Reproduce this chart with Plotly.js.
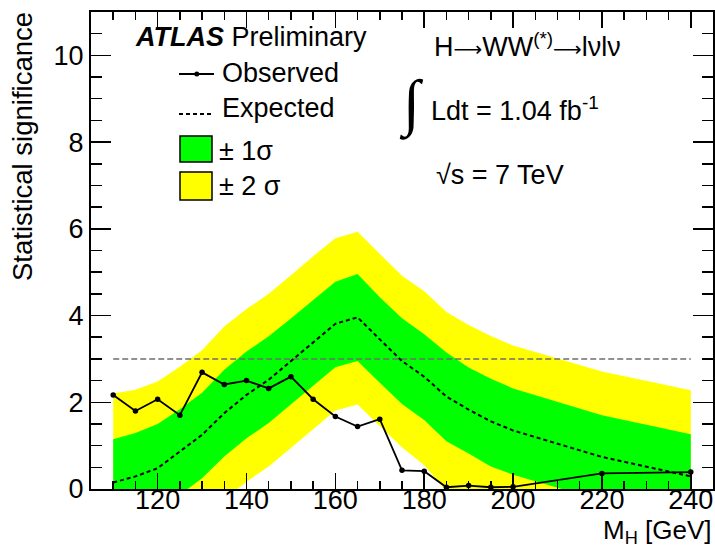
<!DOCTYPE html>
<html>
<head>
<meta charset="utf-8">
<script src="https://cdn.plot.ly/plotly-3.0.1.min.js"></script>
<style>html,body{margin:0;padding:0;background:#fff;}#chart{width:715px;height:547px;}</style>
</head>
<body>
<div id="chart"></div>
<script>
// ---- data ----
const mass      = [110, 115, 120, 125, 130, 135, 140, 145, 150, 155, 160, 165, 170, 175, 180, 185, 190, 195, 200, 220, 240];
const observed  = [2.17, 1.80, 2.07, 1.70, 2.69, 2.41, 2.50, 2.32, 2.59, 2.07, 1.67, 1.44, 1.61, 0.43, 0.41, 0.04, 0.08, 0.04, 0.05, 0.36, 0.39];
const expected  = [0.15, 0.29, 0.48, 0.86, 1.25, 1.75, 2.17, 2.52, 2.94, 3.38, 3.81, 3.96, 3.45, 2.95, 2.59, 2.13, 1.83, 1.56, 1.35, 0.74, 0.29];
const green_hi  = [1.15, 1.29, 1.50, 1.84, 2.22, 2.75, 3.17, 3.52, 3.93, 4.36, 4.78, 4.96, 4.42, 3.94, 3.57, 3.15, 2.80, 2.54, 2.32, 1.70, 1.26];
const green_lo  = [-0.85, -0.71, -0.52, -0.14, 0.25, 0.75, 1.17, 1.52, 1.94, 2.38, 2.81, 2.95, 2.45, 1.96, 1.59, 1.10, 0.82, 0.52, 0.33, -0.27, -0.72];
const yellow_hi = [2.20, 2.29, 2.48, 2.82, 3.20, 3.75, 4.15, 4.50, 4.93, 5.37, 5.78, 5.93, 5.42, 4.92, 4.56, 4.08, 3.78, 3.53, 3.31, 2.71, 2.28];
const yellow_lo = [-1.85, -1.71, -1.52, -1.14, -0.75, -0.25, 0.17, 0.52, 0.94, 1.38, 1.81, 1.95, 1.45, 0.96, 0.55, -0.05, -0.17, -0.45, -0.67, -1.26, -1.72];
const threshold = 3;
const xTickVals = [120, 140, 160, 180, 200, 220, 240];
const yTickVals = [0, 2, 4, 6, 8, 10];

// ---- layout helpers (pixel -> paper) ----
const L = 91, R = 713, T = 12, B = 489;
const px = x => (x - L) / (R - L);
const py = y => (B - y) / (B - T);
const FONT = 'Liberation Sans, Arial, Helvetica, sans-serif';

const traces = [
  {x: mass, y: yellow_lo, mode: 'lines', line: {width: 0, color: '#ffff00'}, hoverinfo: 'skip', showlegend: false},
  {x: mass, y: yellow_hi, mode: 'lines', line: {width: 0, color: '#ffff00'}, fill: 'tonexty', fillcolor: '#ffff00', hoverinfo: 'skip', showlegend: false},
  {x: mass, y: green_lo, mode: 'lines', line: {width: 0, color: '#00ff00'}, hoverinfo: 'skip', showlegend: false},
  {x: mass, y: green_hi, mode: 'lines', line: {width: 0, color: '#00ff00'}, fill: 'tonexty', fillcolor: '#00ff00', hoverinfo: 'skip', showlegend: false},
  {x: [mass[0], mass[mass.length - 1]], y: [threshold, threshold], mode: 'lines', line: {color: '#6e6e6e', width: 1.5, dash: '6px,3px'}, showlegend: false},
  {x: mass, y: expected, mode: 'lines', line: {color: '#000', width: 2, dash: '4px,3px'}, showlegend: false},
  {x: mass, y: observed, mode: 'lines+markers', line: {color: '#000', width: 1.8}, marker: {color: '#000', size: 5.5}, showlegend: false}
];

function ann(text, x, y, size, opts) {
  return Object.assign({text: text, xref: 'paper', yref: 'paper', x: px(x), y: py(y), xanchor: 'left', yanchor: 'middle',
    showarrow: false, font: {family: FONT, size: size, color: '#000'}}, opts || {});
}

const ARROW = '<span style="font-family:DejaVu Sans;font-size:20px">⟶</span>';

const annotations = [
  ann('<b><i>ATLAS</i></b> Preliminary', 133, 37, 27),
  ann('Observed', 220, 73, 27),
  ann('Expected', 220, 108, 27),
  ann('± 1σ', 217, 151, 27),
  ann('± 2 σ', 217, 186, 27),
  ann('H' + ARROW + 'WW<sup>(*)</sup>' + ARROW + 'lνlν', 432, 45, 27),
  ann('∫', 412, 104, 62, {xanchor: 'center', font: {family: 'Liberation Serif, serif', size: 62, color: '#000'}}),
  ann('Ldt = 1.04 fb<sup>-1</sup>', 429, 109, 27),
  ann('√s = 7 TeV', 434, 175, 27),
  ann('Statistical significance', 22, 147, 27.5, {xanchor: 'center', textangle: -90}),
  ann('M<sub>H</sub> [GeV]', 713, 531, 26, {xanchor: 'right', borderpad: 0})
];

const shapes = [
  {type: 'line', xref: 'paper', yref: 'paper', x0: px(179), x1: px(214), y0: py(74), y1: py(74), line: {color: '#000', width: 1.8}},
  {type: 'circle', xref: 'paper', yref: 'paper', x0: px(194.3), x1: px(199.3), y0: py(71.5), y1: py(76.5), fillcolor: '#000', line: {color: '#000', width: 0}},
  {type: 'line', xref: 'paper', yref: 'paper', x0: px(179), x1: px(214), y0: py(114), y1: py(114), line: {color: '#000', width: 1.8, dash: '4px,3px'}},
  {type: 'rect', xref: 'paper', yref: 'paper', x0: px(180), x1: px(212), y0: py(136), y1: py(162), fillcolor: '#00ff00', line: {color: '#000', width: 1.5}},
  {type: 'rect', xref: 'paper', yref: 'paper', x0: px(180), x1: px(212), y0: py(172), y1: py(200), fillcolor: '#ffff00', line: {color: '#000', width: 1.5}}
];

const axisCommon = {
  showline: true, linecolor: '#000', linewidth: 2, mirror: 'ticks', showgrid: false, zeroline: false,
  ticks: 'inside', tickcolor: '#000', tickwidth: 1.5, tickfont: {family: FONT, size: 27, color: '#000'}
};

const layout = {
  width: 715, height: 547,
  margin: {l: L, r: 715 - R, t: T, b: 547 - B, pad: 0},
  paper_bgcolor: '#fff', plot_bgcolor: '#fff',
  showlegend: false,
  xaxis: Object.assign({}, axisCommon, {range: [105, 245], tickvals: xTickVals, ticktext: xTickVals.map(String), ticklen: 16,
    ticklabelstandoff: -14,
    minor: {dtick: 5, tick0: 0, ticks: 'inside', ticklen: 8, tickwidth: 1.5, tickcolor: '#000', showgrid: false}}),
  yaxis: Object.assign({}, axisCommon, {range: [0, 11], tickvals: yTickVals, ticktext: yTickVals.map(String), ticklen: 20,
    minor: {dtick: 0.5, tick0: 0, ticks: 'inside', ticklen: 11, tickwidth: 1.5, tickcolor: '#000', showgrid: false}}),
  annotations: annotations,
  shapes: shapes
};

Plotly.newPlot('chart', traces, layout, {staticPlot: true, displayModeBar: false});
</script>
</body>
</html>
